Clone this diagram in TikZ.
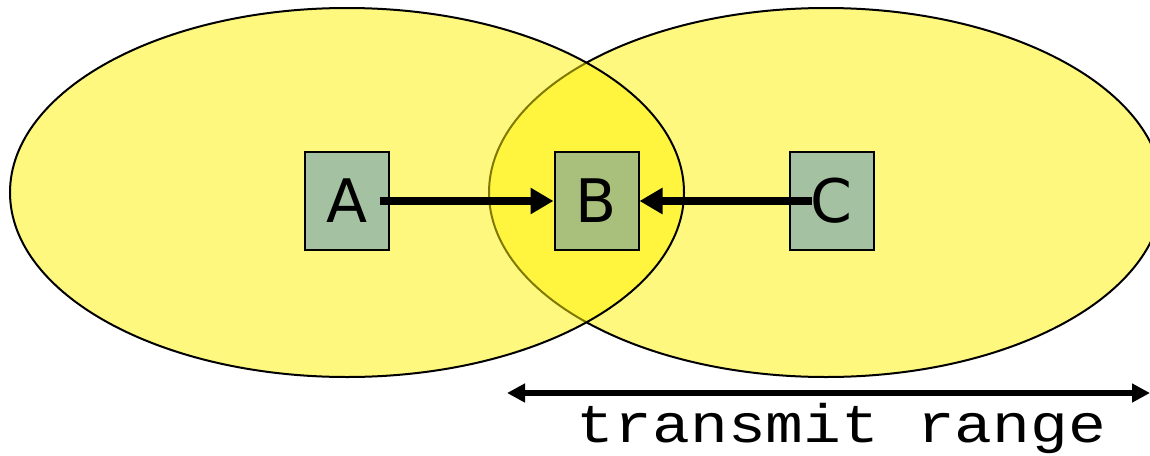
\documentclass[tikz,border=0pt]{standalone}
\usepackage{fontspec}
\usepackage{graphicx}
\newfontfamily\boxfont{DejaVu Sans}
\newfontfamily\rangefont{Liberation Mono}
\usetikzlibrary{arrows.meta}
\definecolor{boxgreen}{RGB}{164,193,161}
\definecolor{boxgreenB}{RGB}{168,192,124}
\tikzset{
  coverzone/.style={draw=black, line width=2pt, fill=yellow, fill opacity=0.5},
  stationbox/.style={draw=black, line width=2pt, fill=boxgreen, minimum width=84pt, minimum height=98pt, inner sep=0pt, font=\boxfont\fontsize{60}{70}\selectfont},
  connarrow/.style={line width=8pt, -{Triangle[length=23pt,width=25pt]}},
  dimarrow/.style={line width=6.5pt, {Triangle[length=18pt,width=18pt]}-{Triangle[length=18pt,width=18pt]}},
}
\begin{document}
\begin{tikzpicture}[x=1pt,y=-1pt]
\useasboundingbox (0,0) rectangle (1150,455);
\begin{scope}
\clip (0,0) rectangle (1150,455);
\draw[coverzone] (826,192.5) ellipse [x radius=337, y radius=184.5];
\draw[coverzone] (347,192.5) ellipse [x radius=337, y radius=184.5];
\end{scope}
\node[stationbox] (A) at (347,201) {A};
\node[stationbox, fill=boxgreenB] (B) at (596.5,201) {B};
\node[stationbox] (C) at (831.5,201) {C};
\draw[connarrow] ([xshift=-10pt]A.east) -- (B.west);
\draw[connarrow] ([xshift=23pt]C.west) -- (B.east);
\coordinate (rl) at (507,393);
\coordinate (rr) at (1150,393);
\draw[dimarrow] (rl) -- (rr);
\node[anchor=base, font=\rangefont\fontsize{63}{70}\selectfont, inner sep=0pt] (lbl) at (841.5,442) {\scalebox{1}[0.86]{transmit range}};
\end{tikzpicture}
\end{document}
